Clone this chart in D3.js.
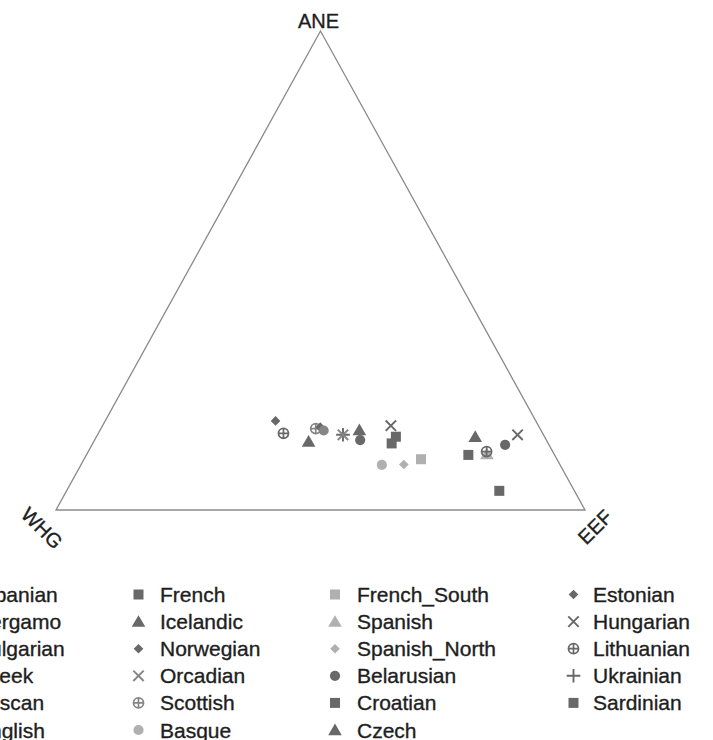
<!DOCTYPE html>
<html>
<head>
<meta charset="utf-8">
<script src="https://cdn.jsdelivr.net/npm/d3@7"></script>
<style>
  html, body { margin: 0; padding: 0; background: #fff; overflow: hidden; }
  svg { display: block; }
  text { font-family: "Liberation Sans", Arial, Helvetica, sans-serif; fill: #1e1e1e; stroke: #1e1e1e; stroke-width: 0.35px; }
</style>
</head>
<body>
<svg id="chart" width="713" height="740"></svg>
<script>
// Populations, in legend order (column by column)
const populations = [
  "Albanian", "Bergamo", "Bulgarian", "Greek", "Tuscan", "English",
  "French", "Icelandic", "Norwegian", "Orcadian", "Scottish", "Basque",
  "French_South", "Spanish", "Spanish_North", "Belarusian", "Croatian", "Czech",
  "Estonian", "Hungarian", "Lithuanian", "Ukrainian", "Sardinian"
];
const shapes = [
  "circle", "triangle", "cross", "square", "circleplus", "circle",
  "square", "triangle", "diamond", "cross", "circleplus", "circle",
  "square", "triangle", "diamond", "circle", "square", "triangle",
  "diamond", "cross", "circleplus", "plus", "square"
];
const tones = [
  "dark", "dark", "dark", "dark", "dark", "mid",
  "dark", "dark", "dark", "mid", "mid", "light",
  "light", "light", "light", "dark", "dark", "dark",
  "dark", "dark", "dark", "dark", "dark"
];
// Ancestry proportions (ANE + EEF + WHG = 1)
const ANE = [0.136, 0.153, 0.157, 0.115, 0.122, 0.166,
             0.139, 0.143, 0.173, 0.157, 0.170, 0.094,
             0.106, 0.117, 0.095, 0.146, 0.153, 0.167,
             0.186, 0.176, 0.160, 0.157, 0.040];
const EEF = [0.781, 0.716, 0.794, 0.722, 0.753, 0.423,
             0.565, 0.406, 0.413, 0.464, 0.406, 0.569,
             0.637, 0.756, 0.610, 0.502, 0.566, 0.490,
             0.322, 0.545, 0.350, 0.464, 0.818];
const WHG = [0.083, 0.131, 0.049, 0.163, 0.125, 0.411,
             0.296, 0.451, 0.414, 0.379, 0.424, 0.337,
             0.257, 0.127, 0.295, 0.352, 0.281, 0.343,
             0.492, 0.279, 0.490, 0.379, 0.142];
const axisLabels = ["ANE", "WHG", "EEF"];

const toneColor = { dark: "#686868", mid: "#858585", light: "#b0b0b0" };

const svg = d3.select("#chart");

// Ternary projection: horizontal position follows EEF (+ half of ANE), vertical follows ANE
const xScale = d3.scaleLinear().domain([0, 1]).range([56, 585]);
const yScale = d3.scaleLinear().domain([0, 1]).range([510, 31]);
function project(a, e, w) {
  const total = a + e + w;
  a /= total; e /= total;
  return [xScale(e + a / 2), yScale(a)];
}

// Triangle frame
const corners = [project(1, 0, 0), project(0, 0, 1), project(0, 1, 0)];
svg.append("path")
  .attr("d", d3.line()(corners) + "Z")
  .attr("fill", "none")
  .attr("stroke", "#8a8a8a")
  .attr("stroke-width", 1.3);

// Vertex labels
svg.append("text")
  .attr("x", corners[0][0] - 2).attr("y", corners[0][1] - 3)
  .attr("text-anchor", "middle")
  .attr("font-size", 20)
  .text(axisLabels[0]);
svg.append("text")
  .attr("transform", `translate(${corners[1][0] - 14},${corners[1][1] + 18}) rotate(45)`)
  .attr("text-anchor", "middle")
  .attr("dominant-baseline", "central")
  .attr("font-size", 20)
  .text(axisLabels[1]);
svg.append("text")
  .attr("transform", `translate(${corners[2][0] + 10},${corners[2][1] + 17}) rotate(-45)`)
  .attr("text-anchor", "middle")
  .attr("dominant-baseline", "central")
  .attr("font-size", 20)
  .text(axisLabels[2]);

// Marker drawing
function drawMarker(g, shape, color) {
  switch (shape) {
    case "square":
      g.append("rect").attr("x", -5).attr("y", -5).attr("width", 10).attr("height", 10)
        .attr("fill", color);
      break;
    case "triangle":
      g.append("path").attr("d", "M0,-6.4L6.8,5.2L-6.8,5.2Z").attr("fill", color);
      break;
    case "diamond":
      g.append("path").attr("d", "M0,-4.8L4.8,0L0,4.8L-4.8,0Z").attr("fill", color);
      break;
    case "circle":
      g.append("circle").attr("r", 5.1).attr("fill", color);
      break;
    case "cross":
      g.append("path").attr("d", "M-5.2,-5.2L5.2,5.2M-5.2,5.2L5.2,-5.2")
        .attr("stroke", color).attr("stroke-width", 1.9).attr("fill", "none");
      break;
    case "plus":
      g.append("path").attr("d", "M-6.8,0L6.8,0M0,-6.8L0,6.8")
        .attr("stroke", color).attr("stroke-width", 1.9).attr("fill", "none");
      break;
    case "circleplus":
      g.append("circle").attr("r", 5)
        .attr("stroke", color).attr("stroke-width", 1.8).attr("fill", "none");
      g.append("path").attr("d", "M-5,0L5,0M0,-5L0,5")
        .attr("stroke", color).attr("stroke-width", 1.7).attr("fill", "none");
      break;
  }
}

// Data points (drawn last-to-first so earlier legend entries sit on top)
const rows = populations.map((name, i) => ({
  name, shape: shapes[i], tone: tones[i], a: ANE[i], e: EEF[i], w: WHG[i]
}));
const pts = svg.append("g").attr("class", "points");
rows.slice().reverse().forEach(d => {
  const [x, y] = project(d.a, d.e, d.w);
  const g = pts.append("g").attr("transform", `translate(${x},${y})`);
  drawMarker(g, d.shape, toneColor[d.tone]);
});

// Legend: four columns of up to six rows
const legendCols = [
  { marker: -46, text: -24 },
  { marker: 138.5, text: 160 },
  { marker: 335, text: 357 },
  { marker: 573.5, text: 593 }
];
const perCol = 6;
const legend = svg.append("g").attr("class", "legend");
rows.forEach((d, i) => {
  const col = legendCols[Math.floor(i / perCol)];
  const y = 594.5 + (i % perCol) * 27.1;
  const g = legend.append("g").attr("transform", `translate(${col.marker},${y})`);
  drawMarker(g, d.shape, toneColor[d.tone]);
  legend.append("text")
    .attr("x", col.text).attr("y", y + 7.5)
    .attr("font-size", 21)
    .text(d.name);
});
</script>
</body>
</html>
